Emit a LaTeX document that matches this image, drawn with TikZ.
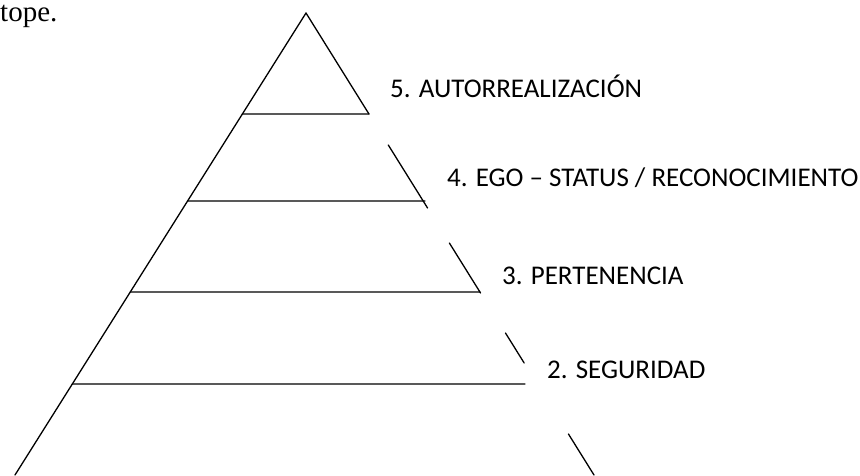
\documentclass[tikz,border=0pt]{standalone}
\usepackage{fontspec}
\setmainfont{Carlito}
\newfontfamily\bodyfont{Liberation Serif}
\usetikzlibrary{calc,positioning}
\tikzset{
    level label/.style={
        anchor=base west,inner sep=0pt,
        font=\fontsize{27}{31}\selectfont
    },
    pyramid line/.style={
        draw,line width=1.3pt,line cap=round
    }
}
\begin{document}
\begin{tikzpicture}[x=1pt,y=-1pt]
\useasboundingbox (0,0) rectangle (860,475);
\node[anchor=base west,inner sep=0pt,font=\bodyfont\fontsize{29}{33}\selectfont] (tope) at (0,21) {tope.};
\coordinate (apex) at (306,13);
\coordinate (foot_l) at (15,475);
\coordinate (foot_r) at (594,475);
% left side
\draw[pyramid line] (apex) -- (foot_l);
% right side, broken next to the labels
\foreach \ya/\yb in {13/114,145/208,243/293,333/363,434/475}
    \draw[pyramid line] ($(apex)!{(\ya-13)/462}!(foot_r)$) -- ($(apex)!{(\yb-13)/462}!(foot_r)$);
% levels
\foreach \i/\y/\xe in {5/114/369,4/201/425,3/292/480,2/384/525}
    \draw[pyramid line] ($(apex)!{(\y-13)/462}!(foot_l)$) coordinate (lvl_\i) -- (\xe,\y);
\foreach \i/\x/\y/\txt in {5/390/97/{5. AUTORREALIZACIÓN},4/447/186/{4. EGO – STATUS / RECONOCIMIENTO},3/502/284/{3. PERTENENCIA},2/547/378/{2. SEGURIDAD}}
    \node[level label] (label_\i) at (\x,\y) {\txt};
\end{tikzpicture}
\end{document}
